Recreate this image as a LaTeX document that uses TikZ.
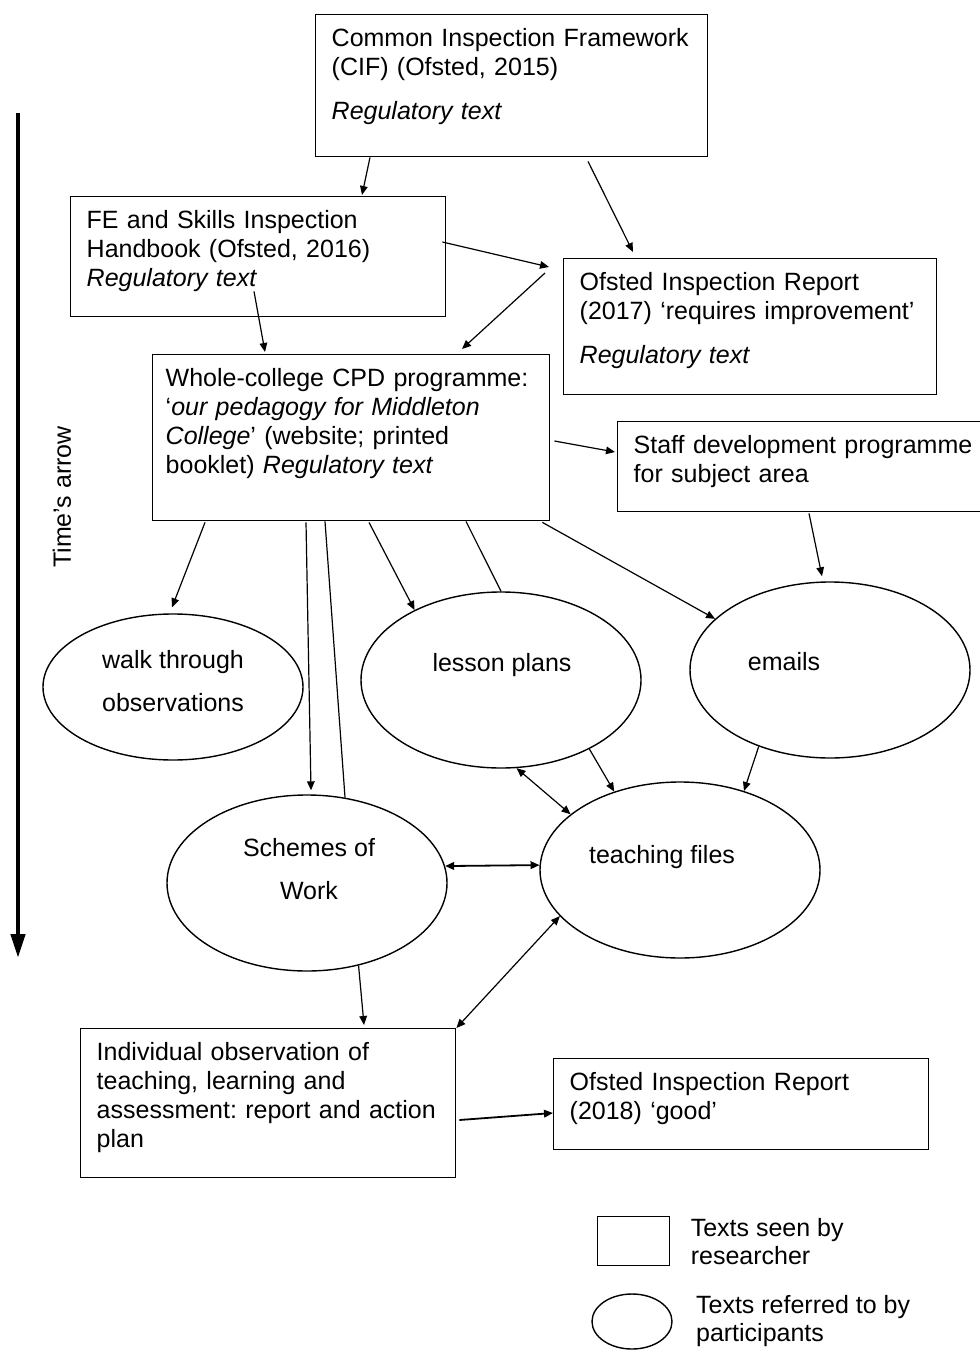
\documentclass[tikz,border=0pt]{standalone}
\usepackage{fontspec}
\setmainfont{Liberation Sans}
\frenchspacing
\usetikzlibrary{shapes.geometric, arrows.meta, calc, positioning}
\tikzstyle{textbox} = [rectangle, draw=black, line width=0.7pt, anchor=north west, align=left, inner xsep=8pt, inner ysep=7pt, text height=9pt]
\tikzstyle{oval} = [ellipse, draw=black, line width=0.7pt, inner sep=0pt, minimum width=140pt, minimum height=88pt]
\tikzstyle{lbl} = [align=center, inner sep=0pt]
\tikzstyle{arrow} = [line width=0.6pt, -{Triangle[length=4.5pt,width=3.8pt]}]
\tikzstyle{darrow} = [line width=0.6pt, {Triangle[length=4.5pt,width=3.8pt]}-{Triangle[length=4.5pt,width=3.8pt]}]
\tikzstyle{link} = [line width=0.6pt]
\tikzstyle{timearrow} = [line width=2.3pt, -{Triangle[length=12pt,width=7pt]}]

\begin{document}
\begin{tikzpicture}[x=0.5pt, y=-0.5pt, font=\fontsize{12.5}{14.5}\selectfont]
	\useasboundingbox (0,0) rectangle (979,1352);

	% texts seen by the researcher
	\node (cif) [textbox, text width=180pt, text depth=48pt] at (315,14) {Common Inspection Framework\\(CIF) (Ofsted, 2015)\\[7.5pt]\textit{Regulatory text}};
	\node (fe) [textbox, text width=171.5pt, text depth=37pt] at (70,196) {FE and Skills Inspection\\Handbook (Ofsted, 2016)\\\textit{Regulatory text}};
	\node (of17) [textbox, text width=170.5pt, text depth=45pt] at (563,258) {Ofsted Inspection Report\\(2017) ‘requires improvement’\\[7.5pt]\textit{Regulatory text}};
	\node (cpd) [textbox, inner xsep=6.5pt, text width=185.5pt, text depth=60pt] at (152,354) {Whole-college CPD programme:\\‘\textit{our pedagogy for Middleton}\\\textit{College}’ (website; printed\\booklet) \textit{Regulatory text}};
	\node (staff) [textbox, text width=174pt, text depth=22pt] at (617,421) {Staff development programme\\for subject area};
	\node (ind) [textbox, inner xsep=6pt, text width=175.5pt, text depth=51.5pt] at (80,1028) {\hspace*{2pt}Individual observation of\\\hspace*{2pt}teaching, learning and\\\hspace*{2pt}assessment: report and action\\\hspace*{2pt}plan};
	\node (of18) [textbox, text width=171.5pt, text depth=22.5pt] at (553,1058) {Ofsted Inspection Report\\(2018) ‘good’};

	% texts referred to by participants
	\node (walk) [oval, minimum width=130pt, minimum height=73pt] at (173,687) {};
	\node (lp) [oval] at (501,680) {};
	\node (em) [oval] at (830,670) {};
	\node (sw) [oval] at (307,883) {};
	\node (tf) [oval] at (680,870) {};
	\node (walktxt) [lbl] at ($(walk.center)+(0,-6)$) {walk through\\[7pt]observations};
	\node (lptxt) [lbl] at ($(lp.center)+(1,-15)$) {lesson plans};
	\node (emtxt) [lbl] at ($(em.center)+(-46,-8)$) {emails};
	\node (swtxt) [lbl] at ($(sw.center)+(2,-14)$) {Schemes of\\[7pt]Work};
	\node (tftxt) [lbl] at ($(tf.center)+(-18,-13)$) {teaching files};

	% time's arrow
	\coordinate (tstart) at (18,113);
	\coordinate (tend) at (18,958);
	\draw [timearrow] (tstart) -- (tend);
	\node (timelbl) [rotate=90] at (62,497) {Time’s arrow};

	% connectors
	\draw [arrow] ($(cif.south west)+(55,0)$) -- ($(fe.north west)+(292,-1)$);
	\draw [arrow] ($(cif.south west)+(273,4)$) -- ($(of17.north west)+(70,-6)$);
	\draw [arrow] ($(fe.north east)+(-4,46)$) -- ($(of17.north west)+(-14,9)$);
	\draw [arrow] ($(of17.north west)+(-18,15)$) -- ($(cpd.north west)+(310,-5)$);
	\draw [arrow] ($(fe.south west)+(184,-26)$) -- ($(cpd.north west)+(113,-2)$);
	\draw [arrow] ($(cpd.north east)+(4,87)$) -- ($(staff.north west)+(-2,31)$);
	\draw [arrow] ($(cpd.south west)+(53,1)$) -- ($(walk.north)+(-1,-6)$);
	\draw [arrow] ($(cpd.south west)+(154,1)$) -- ($(sw.north)+(4,-4)$);
	\draw [link] (sw.66) -- ($(cpd.south west)+(173,0)$);
	\draw [arrow] ($(cpd.south west)+(217,1)$) -- (lp.141);
	\draw [link] (lp.north) -- ($(cpd.south west)+(314,0)$);
	\draw [arrow] ($(cpd.south east)+(-8,1)$) -- (em.156);
	\draw [arrow] ($(staff.south west)+(192,1)$) -- ($(em.north)+(-8,-5)$);
	\draw [arrow] (lp.-38) -- (tf.130);
	\draw [darrow] (lp.-80) -- (tf.153);
	\draw [arrow] (em.-133) -- (tf.51);
	\draw [darrow, line width=0.9pt] (sw.7) -- (tf.178);
	\draw [darrow] (tf.-159) -- (ind.north east);
	\draw [arrow] (sw.-58) -- ($(ind.north west)+(284,-3)$);
	\draw [arrow, line width=0.9pt] ($(ind.north east)+(3,92)$) -- ($(of18.north west)+(0,55)$);

	% key
	\node (keybox) [rectangle, draw=black, line width=0.7pt, anchor=north west, minimum width=36pt, minimum height=24.5pt] at (597,1216) {};
	\node (keyoval) [ellipse, draw=black, line width=0.7pt, inner sep=0pt, minimum width=40pt, minimum height=27.5pt] at (632,1321.5) {};
	\node (keyboxtxt) [align=left, inner sep=0pt, right=10pt of keybox, font=\fontsize{12.5}{14}\selectfont] {Texts seen by\\researcher};
	\node (keyovaltxt) [align=left, inner sep=0pt, right=11.5pt of keyoval, font=\fontsize{12.5}{14}\selectfont] {Texts referred to by\\participants};
\end{tikzpicture}
\end{document}
